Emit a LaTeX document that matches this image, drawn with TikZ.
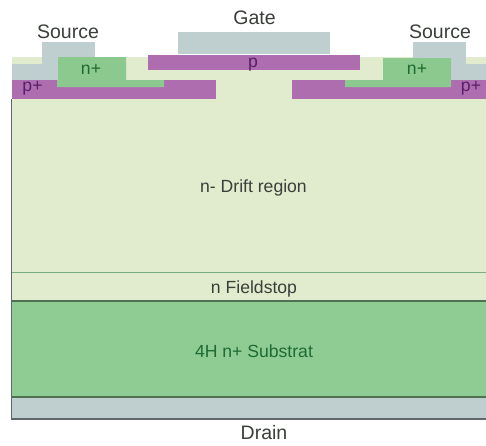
\documentclass[tikz,border=0pt]{standalone}
\usepackage{fontspec}
\setmainfont{Liberation Sans}
\definecolor{lightn}{HTML}{E1EBCD}
\definecolor{subst}{HTML}{8FCC93}
\definecolor{nplus}{HTML}{8CC98F}
\definecolor{ptype}{HTML}{AE6DAE}
\definecolor{metal}{HTML}{BFCFD0}
\definecolor{labelgrey}{HTML}{3A3F3A}
\definecolor{darkgreen}{HTML}{1F6A33}
\definecolor{darkpurple}{HTML}{5A1F6A}
\tikzset{
  biglabel/.style={font=\fontsize{19.5}{22}\selectfont,text=labelgrey,inner sep=0pt},
  midlabel/.style={font=\fontsize{17.6}{21}\selectfont,text=labelgrey,inner sep=0pt},
  nlabel/.style={font=\fontsize{17.6}{21}\selectfont,text=darkgreen,inner sep=0pt},
  plabel/.style={font=\fontsize{17.6}{21}\selectfont,text=darkpurple,inner sep=0pt},
  rule/.style={line width=1pt}
}
\begin{document}
\begin{tikzpicture}[x=1pt,y=-1pt]
\useasboundingbox (0,0) rectangle (486,445);
\fill[white] (0,0) rectangle (486,445);
% body
\fill[lightn] (12,57) rectangle (486,272);
\fill[lightn] (12,272) rectangle (486,301);
\fill[subst] (12,301) rectangle (486,397);
\fill[metal] (12,397) rectangle (486,419);
% source metal
\fill[metal] (42,42) rectangle (95,57);
\fill[metal] (12,64) -- (42,64) -- (42,57) -- (58,57) -- (58,80) -- (12,80) -- cycle;
\fill[metal] (413,42) rectangle (466,58);
\fill[metal] (451,58) rectangle (466,80);
\fill[metal] (466,64) rectangle (486,80);
% gate
\fill[metal] (178,32) rectangle (330,54);
% p regions
\fill[ptype] (148,55) rectangle (360,70);
\fill[ptype] (12,80) rectangle (216,99);
\fill[ptype] (292,80) rectangle (486,99);
% n+ regions
\fill[nplus] (58,57) -- (126,57) -- (126,80) -- (164,80) -- (164,87) -- (57,87) -- (57,80) -- (58,80) -- cycle;
\fill[nplus] (383,58) -- (451,58) -- (451,87) -- (345,87) -- (345,80) -- (383,80) -- cycle;
% rules
\draw[rule,draw=subst!85!black] (12,272) -- (486,272);
\draw[line width=1.2pt,draw=subst!55!black] (12,301) -- (486,301);
\draw[line width=1.2pt,draw=subst!55!black] (12,397) -- (486,397);
\draw[line width=1.2pt,draw=metal!50!black] (486,419) -- (11.5,419) -- (11.5,99);
% labels
\node[biglabel] (source1) at (68,32) {Source};
\node[biglabel] (gate) at (254.5,18) {Gate};
\node[biglabel] (source2) at (440,32) {Source};
\node[biglabel] (drain) at (264,433) {Drain};
\node[nlabel] (nl) at (91,69) {n+};
\node[nlabel] (nr) at (417,69) {n+};
\node[plabel] (pl) at (32.5,88) {p+};
\node[plabel] (pr) at (471,88) {p+};
\node[plabel] (pc) at (253,65) {p};
\node[midlabel] (drift) at (253.5,188) {n- Drift region};
\node[midlabel] (fs) at (254,289) {n Fieldstop};
\node[nlabel] (sub) at (254,351) {4H n+ Substrat};
\end{tikzpicture}
\end{document}
